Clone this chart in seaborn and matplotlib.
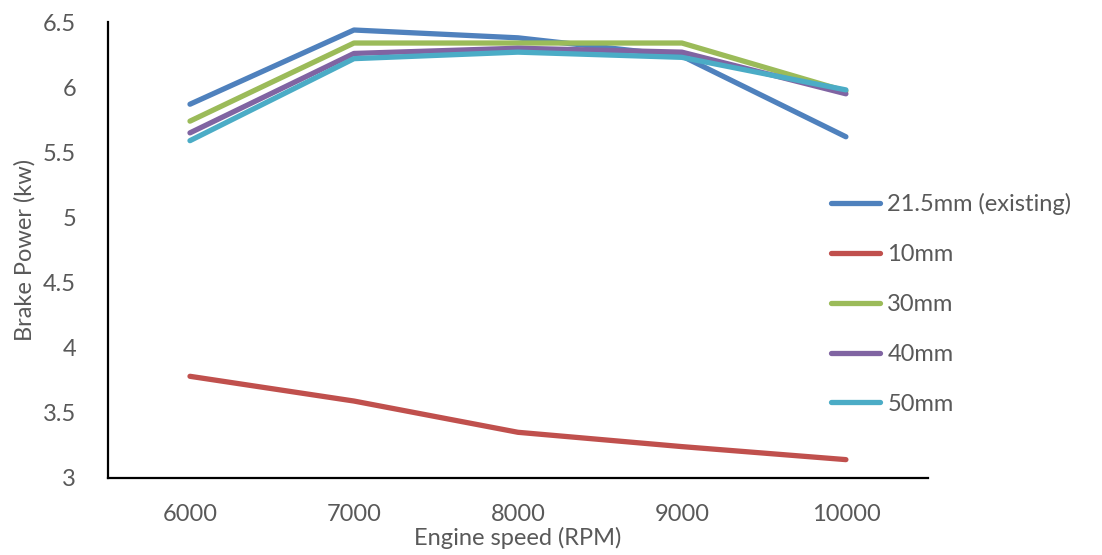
import matplotlib
matplotlib.use("Agg")
import matplotlib.pyplot as plt
import seaborn as sns
import pandas as pd
from matplotlib.ticker import FuncFormatter

speeds = ["6000", "7000", "8000", "9000", "10000"]
series_names = ["21.5mm (existing)", "10mm", "30mm", "40mm", "50mm"]
p_215 = [5.87, 6.44, 6.38, 6.24, 5.62]
p_10 = [3.78, 3.59, 3.35, 3.24, 3.14]
p_30 = [5.74, 6.34, 6.34, 6.34, 5.97]
p_40 = [5.65, 6.26, 6.30, 6.27, 5.95]
p_50 = [5.59, 6.22, 6.27, 6.23, 5.98]
colors = ["#4F81BD", "#C0504D", "#9BBB59", "#8064A2", "#4BACC6"]

rows = []
for name, vals in zip(series_names, [p_215, p_10, p_30, p_40, p_50]):
    for s, v in zip(speeds, vals):
        rows.append({"speed": s, "power": v, "series": name})
df = pd.DataFrame(rows)

sns.set_style("white")
plt.rcParams["font.family"] = ["Lato", "DejaVu Sans"]

fig = plt.figure(figsize=(11.02, 5.55), dpi=100)
ax = fig.add_axes([0.098, 0.139, 0.744, 0.821])

sns.lineplot(data=df, x="speed", y="power", hue="series", hue_order=series_names,
             palette=colors, linewidth=3.8, sort=False, ax=ax,
             solid_capstyle="round")

ax.set_xlim(-0.5, 4.5)
ax.set_ylim(3, 6.5)
ax.set_yticks([3, 3.5, 4, 4.5, 5, 5.5, 6, 6.5])
ax.yaxis.set_major_formatter(FuncFormatter(lambda v, p: f"{v:g}"))

for side in ["top", "right"]:
    ax.spines[side].set_visible(False)
for side in ["left", "bottom"]:
    ax.spines[side].set_color("black")
    ax.spines[side].set_linewidth(1.6)

tc = "#595959"
ax.tick_params(axis="both", length=0, labelsize=17, labelcolor=tc)
ax.tick_params(axis="x", pad=19)
ax.tick_params(axis="y", pad=23)
ax.set_xlabel("Engine speed (RPM)", fontsize=17, color=tc, labelpad=1)
ax.set_ylabel("Brake Power (kw)", fontsize=17, color=tc)
ax.yaxis.set_label_coords(-0.088, 0.5)

leg = ax.legend(loc="upper left", bbox_to_anchor=(0.87, 0.645), frameon=False,
                fontsize=17, handlelength=2.1, labelspacing=1.22, handletextpad=0.3,
                borderaxespad=0)
for t in leg.get_texts():
    t.set_color(tc)
for l in leg.get_lines():
    l.set_linewidth(3.8)

fig.savefig("out.png", dpi=100)
